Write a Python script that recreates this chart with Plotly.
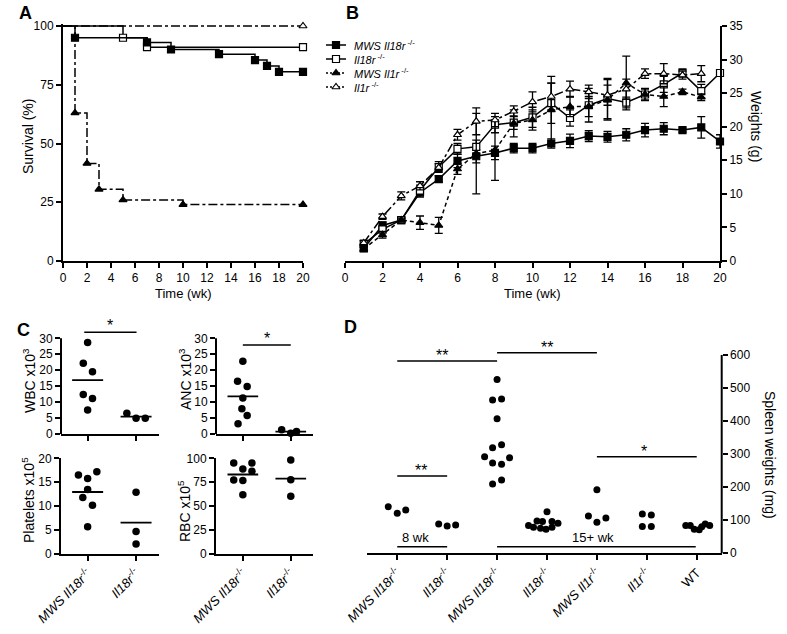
import plotly.graph_objects as go
import numpy as np

W, H = 787, 634
FONT = "Liberation Sans, Arial, Helvetica, sans-serif"

# ---------------- Panel A : survival (%) ----------------
surv_t_mws18 = [0, 1, 7, 9, 13, 16, 17, 18, 20]
surv_mws18 = [100, 95, 93, 90, 88, 85.5, 83, 80.5, 80.5]
surv_t_il18 = [0, 5, 7, 20]
surv_il18 = [100, 95, 91, 91]
surv_t_mws1 = [0, 1, 2, 3, 5, 10, 20]
surv_mws1 = [100, 63, 41.5, 30.5, 26, 24, 24]
surv_t_il1 = [0, 20]
surv_il1 = [100, 100]

# ---------------- Panel B : weights (g) ----------------
weeks = list(range(1, 21))
w_mws18 = [1.9, 5.3, 6.1, 10.2, 12.2, 14.9, 15.6, 16.1, 16.8, 16.8, 17.5, 17.9, 18.6, 18.5, 18.8, 19.5, 19.7, 19.5, 19.9, 17.8]
w_mws18_err = [0.5, 0.5, 0.3, 0.7, 0.5, 1.0, 1.0, 1.0, 0.7, 0.7, 0.7, 1.0, 0.8, 0.8, 0.9, 1.0, 0.9, 0.3, 1.6, 1.0]
w_il18 = [2.5, 4.7, 6.1, 10.5, 14.0, 16.7, 17.0, 20.3, 20.6, 21.4, 23.5, 21.3, 23.2, 24.2, 23.6, 24.8, 26.3, 28.0, 25.3, 28.0]
w_il18_err = [0.5, 0.5, 0.3, 0.8, 0.8, 0.8, 1.0, 1.2, 1.0, 1.5, 3.0, 1.2, 2.5, 3.0, 0.8, 0.9, 1.2, 0.6, 1.0, 0.3]
w_mws1 = [1.8, 3.9, 6.1, 5.7, 5.3, 13.7, 16.0, 16.5, 20.5, 21.0, 22.5, 23.0, 23.0, 24.0, 26.5, 24.8, 24.5, 25.2, 24.4]
w_mws1_err = [0.4, 0.5, 0.3, 1.0, 1.2, 0.8, 6.0, 4.5, 2.0, 1.5, 5.0, 1.5, 1.5, 3.0, 4.0, 0.8, 1.5, 0.4, 0.5]
w_il1 = [2.7, 6.6, 9.7, 11.2, 13.9, 18.8, 20.8, 21.0, 22.3, 23.7, 24.5, 25.6, 25.2, 24.7, 25.6, 27.9, 27.9, 27.7, 27.9]
w_il1_err = [0.4, 0.4, 0.6, 0.6, 0.6, 0.8, 2.0, 1.0, 0.8, 1.5, 2.0, 1.2, 1.0, 1.5, 1.5, 0.7, 1.5, 0.6, 1.2]
series_names = ["<i>MWS Il18r</i><sup> -/-</sup>", "<i>Il18r</i><sup> -/-</sup>",
                "<i>MWS Il1r</i><sup> -/-</sup>", "<i>Il1r</i><sup> -/-</sup>"]

# ---------------- Panel C : blood counts ----------------
c_groups = ["<i>MWS Il18r</i><sup>-/-</sup>", "<i>Il18r</i><sup>-/-</sup>"]
wbc_mws = [28.7, 22.2, 19.5, 12.4, 11.1, 7.5]
wbc_mws_jit = [0, -0.09, 0.1, -0.09, 0.1, 0]
wbc_il18 = [6.5, 4.9, 4.9]
wbc_il18_jit = [-0.19, 0, 0.19]
anc_mws = [22.8, 16.5, 14.9, 11.3, 7.9, 5.8, 3.2]
anc_mws_jit = [0, -0.11, 0.09, 0, -0.02, 0.09, -0.1]
anc_il18 = [1.3, 0.2, 0.8]
anc_il18_jit = [-0.19, 0, 0.12]
plt_mws = [16.5, 17.2, 15.8, 13.5, 11.8, 10.2, 5.7]
plt_mws_jit = [-0.19, 0.19, 0, 0, -0.1, 0.1, 0]
plt_il18 = [12.9, 4.7, 2.1]
plt_il18_jit = [0, 0, 0]
rbc_mws = [95.1, 88.9, 95.1, 86.4, 77.4, 76.7, 62.0]
rbc_mws_jit = [-0.19, 0, 0.19, 0.19, -0.19, 0, 0]
rbc_il18 = [98.3, 77.7, 60.3]
rbc_il18_jit = [0, 0, 0]

# ---------------- Panel D : spleen weights (mg) ----------------
d_groups = ["<i>MWS Il18r</i><sup>-/-</sup>", "<i>Il18r</i><sup>-/-</sup>", "<i>MWS Il18r</i><sup>-/-</sup>",
            "<i>Il18r</i><sup>-/-</sup>", "<i>MWS Il1r</i><sup>-/-</sup>", "<i>Il1r</i><sup>-/-</sup>", "WT"]
spleen_vals = [
    [141, 121, 131],
    [88.7, 82.7, 85.7],
    [526, 464, 467, 407, 319, 328, 292, 289, 273, 269, 210, 222],
    [126, 98, 96, 96, 84, 91, 79, 76, 73, 79],
    [192, 113, 107, 94],
    [119, 116, 81, 81],
    [84, 84, 73, 71, 80, 89, 84],
]
spleen_jit = [
    [-0.18, 0, 0.17],
    [-0.17, 0, 0.17],
    [0, -0.09, 0.09, 0, -0.09, 0.09, -0.25, 0.25, -0.09, 0.09, -0.09, 0.09],
    [0, -0.2, -0.09, 0.1, -0.37, 0.22, -0.27, -0.13, -0.02, 0.1],
    [0, -0.17, 0.18, 0],
    [-0.09, 0.09, -0.09, 0.09],
    [-0.22, -0.13, -0.05, 0.05, 0.1, 0.17, 0.26],
]


def px(x):
    return x / W


def py(y):
    return 1 - y / H


def axis(domain, rng, **kw):
    d = dict(domain=domain, range=rng, showgrid=False, zeroline=False, showline=True,
             linecolor="black", linewidth=2, ticks="outside", ticklen=5, tickwidth=1.5,
             tickcolor="black", tickfont=dict(size=12, color="black", family=FONT),
             fixedrange=True, automargin=False)
    d.update(kw)
    return d


fig = go.Figure()
BLACK = "black"

# ---- A traces
def km(t, s, dash, symbol, fill):
    fig.add_trace(go.Scatter(x=t, y=s, mode="lines", line=dict(color=BLACK, width=1.5, dash=dash, shape="hv"),
                             xaxis="x", yaxis="y", showlegend=False, hoverinfo="skip"))
    fig.add_trace(go.Scatter(x=t[1:], y=s[1:], mode="markers",
                             marker=dict(symbol=symbol, size=7, color=fill, line=dict(color=BLACK, width=1.2)),
                             xaxis="x", yaxis="y", showlegend=False, cliponaxis=False))

km(surv_t_il18, surv_il18, "solid", "square", "white")
km(surv_t_il1, surv_il1, "dashdot", "triangle-up", "white")
km(surv_t_mws18, surv_mws18, "solid", "square", BLACK)
km(surv_t_mws1, surv_mws1, "dashdot", "triangle-up", BLACK)

# ---- B traces
styles_B = [("solid", "square", BLACK), ("solid", "square", "white"),
            ("4px,3px", "triangle-up", BLACK), ("dashdot", "triangle-up", "white")]
for vals, errs, (dash, sym, fill) in zip([w_mws18, w_il18, w_mws1, w_il1],
                                         [w_mws18_err, w_il18_err, w_mws1_err, w_il1_err], styles_B):
    fig.add_trace(go.Scatter(
        x=weeks[:len(vals)], y=vals, mode="lines+markers",
        line=dict(color=BLACK, width=1.5, dash=dash),
        marker=dict(symbol=sym, size=7, color=fill, line=dict(color=BLACK, width=1.2)),
        error_y=dict(type="data", array=errs, color=BLACK, thickness=1.3, width=4),
        xaxis="x2", yaxis="y2", cliponaxis=False, showlegend=False))

# ---- legend keys for B (drawn on a transparent overlay pixel axis)
leg_rows = [45, 59, 73, 87]
for row, (dash, sym, fill) in zip(leg_rows, styles_B):
    fig.add_trace(go.Scatter(x=[326, 346], y=[row, row], mode="lines",
                             line=dict(color=BLACK, width=1.5, dash="2px,2px" if dash != "solid" else "solid"),
                             xaxis="x8", yaxis="y8", showlegend=False, hoverinfo="skip"))
    fig.add_trace(go.Scatter(x=[336], y=[row], mode="markers",
                             marker=dict(symbol=sym, size=7, color=fill, line=dict(color=BLACK, width=1.2)),
                             xaxis="x8", yaxis="y8", showlegend=False, hoverinfo="skip"))

# ---- C traces
def dots(groups_vals, groups_jit, xa, ya, size=7.5, half=0.32):
    for gi, (v, j) in enumerate(zip(groups_vals, groups_jit)):
        fig.add_trace(go.Scatter(x=[gi + o for o in j], y=v, mode="markers",
                                 marker=dict(size=size, color=BLACK), xaxis=xa, yaxis=ya,
                                 showlegend=False, cliponaxis=False))
        if half:
            m = float(np.mean(v))
            fig.add_trace(go.Scatter(x=[gi - half, gi + half], y=[m, m], mode="lines",
                                     line=dict(color=BLACK, width=1.8), xaxis=xa, yaxis=ya,
                                     showlegend=False, hoverinfo="skip"))

dots([wbc_mws, wbc_il18], [wbc_mws_jit, wbc_il18_jit], "x3", "y3")
dots([anc_mws, anc_il18], [anc_mws_jit, anc_il18_jit], "x4", "y4")
dots([plt_mws, plt_il18], [plt_mws_jit, plt_il18_jit], "x5", "y5")
dots([rbc_mws, rbc_il18], [rbc_mws_jit, rbc_il18_jit], "x6", "y6")

# ---- D traces
dots(spleen_vals, spleen_jit, "x7", "y7", size=7, half=0)

# ---------------- layout / axes ----------------
A_x = [px(63), px(303)]
A_y = [py(261), py(261 - 2.35 * 101)]
B_x = [px(345), px(720)]
B_y = [py(261), py(26)]
CL_x = [px(61), px(159.3)]
CR_x = [px(216), px(313.3)]
CT_y = [py(434), py(434 - 3.19 * 36)]
CB_y = [py(554), py(458.3)]
D_x = [px(367.3), px(721.7)]
D_y = [py(553.3), py(553.3 - 0.3306 * 640)]

rot_font = dict(size=13, color=BLACK, family=FONT)
lay = dict(
    template="none",
    width=W, height=H, margin=dict(l=0, r=0, t=0, b=0, pad=0), autosize=False,
    paper_bgcolor="white", plot_bgcolor="rgba(0,0,0,0)",
    font=dict(family=FONT, color=BLACK, size=12),
    showlegend=False,
    xaxis=axis(A_x, [0, 20], tickvals=list(range(0, 21, 2)), anchor="y"),
    yaxis=axis(A_y, [0, 101], tickvals=[0, 25, 50, 75, 100], anchor="x"),
    xaxis2=axis(B_x, [0, 20], tickvals=list(range(0, 21, 2)), anchor="y2"),
    yaxis2=axis(B_y, [0, 35], tickvals=list(range(0, 36, 5)), anchor="x2", side="right"),
    xaxis3=axis(CL_x, [-0.55, 1.48], tickvals=[0, 1], showticklabels=False, anchor="y3"),
    yaxis3=axis(CT_y, [0, 36], tickvals=list(range(0, 31, 5)), anchor="x3", showline=False),
    xaxis4=axis(CR_x, [-0.56, 1.47], tickvals=[0, 1], showticklabels=False, anchor="y4"),
    yaxis4=axis(CT_y, [0, 36], tickvals=list(range(0, 31, 5)), anchor="x4", showline=False),
    xaxis5=axis(CL_x, [-0.55, 1.48], tickvals=[0, 1], ticktext=c_groups, tickangle=-45,
                tickfont=rot_font, anchor="y5"),
    yaxis5=axis(CB_y, [0, 20], tickvals=[0, 5, 10, 15, 20], anchor="x5"),
    xaxis6=axis(CR_x, [-0.56, 1.47], tickvals=[0, 1], ticktext=c_groups, tickangle=-45,
                tickfont=rot_font, anchor="y6"),
    yaxis6=axis(CB_y, [0, 100], tickvals=[0, 25, 50, 75, 100], anchor="x6"),
    xaxis7=axis(D_x, [-0.6, 6.5], tickvals=list(range(7)), ticktext=d_groups, tickangle=-45,
                tickfont=rot_font, anchor="y7"),
    yaxis7=axis(D_y, [0, 640], tickvals=list(range(0, 601, 100)), anchor="x7", side="right",
                showline=False),
    xaxis8=dict(domain=[0, 1], range=[0, W], visible=False, fixedrange=True, anchor="y8"),
    yaxis8=dict(domain=[0, 1], range=[H, 0], visible=False, fixedrange=True, anchor="x8"),
)

shapes = []
# manual axis lines (axis only spans tick range)
shapes.append(dict(type="line", xref="x3 domain", yref="y3 domain", x0=0, x1=0, y0=0, y1=30 / 36,
                   line=dict(color=BLACK, width=2)))
shapes.append(dict(type="line", xref="x4 domain", yref="y4 domain", x0=0, x1=0, y0=0, y1=30 / 36,
                   line=dict(color=BLACK, width=2)))
shapes.append(dict(type="line", xref="x7 domain", yref="y7 domain", x0=1, x1=1, y0=0, y1=600 / 640,
                   line=dict(color=BLACK, width=2)))

STAR = 16
# significance bars
sig_c = [("x3", "y3", -0.07, 1.01, 31.9, 34.0, "*"), ("x4", "y4", 0, 1, 27.9, 30.0, "*")]
sig_d = [(0, 2, 582, 0.9, 597, "**"), (2, 4, 607, 3.0, 622, "**"), (0, 1, 234, 0.47, 249, "**"),
         (4, 6, 292, 4.94, 307, "*")]
ann = []
for xa, ya, a, b, yb, ys, t in sig_c:
    shapes.append(dict(type="line", xref=xa, yref=ya, x0=a, x1=b, y0=yb, y1=yb, line=dict(color=BLACK, width=1.5)))
    ann.append(dict(x=(a + b) / 2, y=ys, xref=xa, yref=ya, text=t, showarrow=False, font=dict(size=STAR),
                    xanchor="center", yanchor="middle"))
for a, b, yb, xs, ys, t in sig_d:
    shapes.append(dict(type="line", xref="x7", yref="y7", x0=a, x1=b, y0=yb, y1=yb, line=dict(color=BLACK, width=1.5)))
    ann.append(dict(x=xs, y=ys, xref="x7", yref="y7", text=t, showarrow=False, font=dict(size=STAR),
                    xanchor="center", yanchor="middle"))
# age bars
shapes.append(dict(type="line", xref="x7", yref="y7", x0=0, x1=1, y0=20, y1=20, line=dict(color=BLACK, width=1.5)))
shapes.append(dict(type="line", xref="x7", yref="y7", x0=2, x1=5.98, y0=20, y1=20, line=dict(color=BLACK, width=1.5)))
ann.append(dict(x=0.37, y=47, xref="x7", yref="y7", text="8 wk", showarrow=False, font=dict(size=13),
                xanchor="center", yanchor="middle"))
ann.append(dict(x=3.92, y=47, xref="x7", yref="y7", text="15+ wk", showarrow=False, font=dict(size=13),
                xanchor="center", yanchor="middle"))


def t(x, y, text, angle=0, size=14, xanchor="center"):
    ann.append(dict(x=px(x), y=py(y), xref="paper", yref="paper", text=text, showarrow=False,
                    textangle=angle, xanchor=xanchor, yanchor="middle",
                    font=dict(size=size, color=BLACK, family=FONT)))

# legend texts
for row, name in zip(leg_rows, series_names):
    t(352, row, name, size=11, xanchor="left")

# axis titles
t(28, 137, "Survival (%)", -90)
t(183, 293, "Time (wk)", size=13)
t(532, 293, "Time (wk)", size=13)
t(756, 126, "Weights (g)", 90)
t(29, 380, "WBC x10<sup>3</sup>", -90)
t(185, 379, "ANC x10<sup>3</sup>", -90)
t(28, 500, "Platelets x10<sup>5</sup>", -90)
t(184, 511, "RBC x10<sup>5</sup>", -90)
t(770, 455, "Spleen weights (mg)", 90)
# panel letters
t(25, 13, "<b>A</b>", size=18)
t(352, 13, "<b>B</b>", size=18)
t(23, 330, "<b>C</b>", size=18)
t(350, 327, "<b>D</b>", size=18)

lay["shapes"] = shapes
lay["annotations"] = ann
fig.update_layout(**lay)

fig.write_html("out.html", config={"displayModeBar": False},
               post_script="document.body.style.margin='0';")
